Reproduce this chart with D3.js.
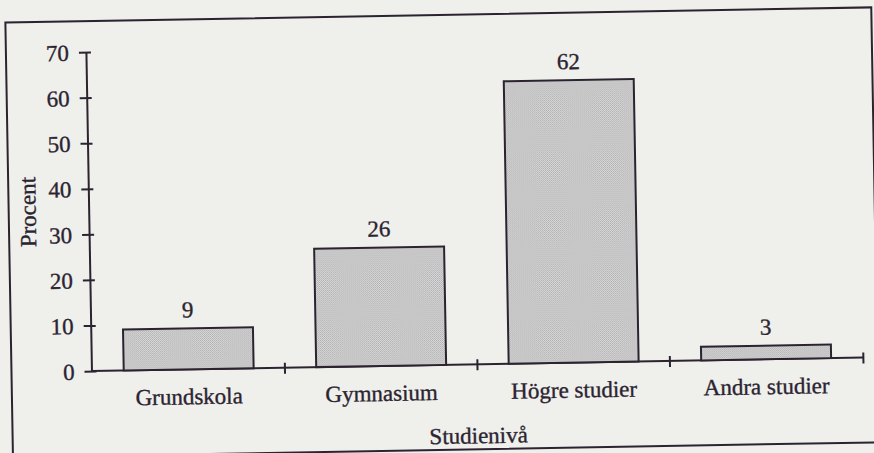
<!DOCTYPE html>
<html>
<head>
<meta charset="utf-8">
<script src="https://cdn.jsdelivr.net/npm/d3@7"></script>
<style>
  body { margin: 0; background: #efefec; }
  svg { display: block; }
  text { font-family: "Liberation Serif", "Times New Roman", serif; fill: #2b2430; stroke: #2b2430; stroke-width: 0.35px; }
</style>
</head>
<body>
<svg width="874" height="453"></svg>
<script>
var categories = ['Grundskola', 'Gymnasium', 'Högre studier', 'Andra studier'];
var values = [9, 26, 62, 3];
var yTicks = [0, 10, 20, 30, 40, 50, 60, 70];

var ink = '#2b2430';
var fontSize = 23;

var svg = d3.select('svg');

// dotted raster like the printed bars
var pat = svg.append('defs').append('pattern')
  .attr('id', 'dots')
  .attr('width', 2).attr('height', 2)
  .attr('patternUnits', 'userSpaceOnUse');
pat.append('rect').attr('width', 2).attr('height', 2).attr('fill', '#dcdcdc');
pat.append('rect').attr('width', 1).attr('height', 1).attr('fill', '#acacac');
pat.append('rect').attr('x', 1).attr('y', 1).attr('width', 1).attr('height', 1).attr('fill', '#b6b6b6');

// the scan is slightly tilted
var g = svg.append('g').attr('transform', 'rotate(-1, 437, 226)');

g.append('rect')
  .attr('x', 9).attr('y', 15)
  .attr('width', 866).attr('height', 435)
  .attr('fill', 'none')
  .attr('stroke', ink)
  .attr('stroke-width', 2);

var xScale = d3.scaleBand()
  .domain(categories)
  .range([89, 861])
  .paddingInner(0.325)
  .paddingOuter(0.1675);

var yScale = d3.scaleLinear()
  .domain([0, 70])
  .range([365, 46]);

// y axis
var yAxis = g.append('g')
  .attr('transform', 'translate(89,0)')
  .call(d3.axisLeft(yScale).tickValues(yTicks).tickSizeOuter(0).tickSizeInner(6).tickPadding(11));
yAxis.select('.domain').attr('stroke', ink).attr('stroke-width', 2);
yAxis.selectAll('.tick line').attr('x1', -7).attr('x2', 5).attr('stroke', ink).attr('stroke-width', 2);
yAxis.selectAll('.tick text')
  .attr('font-size', fontSize)
  .attr('dy', '0.34em')
  .attr('fill', ink);

// x axis line with ticks at band boundaries
var step = xScale.step();
var boundaries = categories.map(function(d) {
  return xScale(d) + xScale.bandwidth() + step * xScale.paddingInner() / 2;
});
boundaries[boundaries.length - 1] = xScale.range()[1];

g.append('line')
  .attr('x1', 89).attr('x2', xScale.range()[1])
  .attr('y1', yScale(0)).attr('y2', yScale(0))
  .attr('stroke', ink).attr('stroke-width', 2);

g.selectAll('line.xtick')
  .data(boundaries)
  .enter()
  .append('line')
    .attr('class', 'xtick')
    .attr('x1', function(d) { return d; })
    .attr('x2', function(d) { return d; })
    .attr('y1', yScale(0) - 5)
    .attr('y2', yScale(0) + 6)
    .attr('stroke', ink)
    .attr('stroke-width', 2);

// bars
g.selectAll('rect.bar')
  .data(values)
  .enter()
  .append('rect')
    .attr('class', 'bar')
    .attr('x', function(d, i) { return xScale(categories[i]); })
    .attr('y', function(d) { return yScale(d); })
    .attr('width', xScale.bandwidth())
    .attr('height', function(d) { return yScale(0) - yScale(d); })
    .attr('fill', 'url(#dots)')
    .attr('stroke', ink)
    .attr('stroke-width', 2);

// value labels
g.selectAll('text.val')
  .data(values)
  .enter()
  .append('text')
    .attr('class', 'val')
    .attr('x', function(d, i) { return xScale(categories[i]) + xScale.bandwidth() / 2; })
    .attr('y', function(d) { return yScale(d) - 11; })
    .attr('text-anchor', 'middle')
    .attr('font-size', fontSize)
    .text(function(d) { return d; });

// category labels
g.selectAll('text.cat')
  .data(categories)
  .enter()
  .append('text')
    .attr('class', 'cat')
    .attr('x', function(d) { return xScale(d) + xScale.bandwidth() / 2; })
    .attr('y', 400)
    .attr('text-anchor', 'middle')
    .attr('font-size', fontSize)
    .text(function(d) { return d; });

// axis titles
g.append('text')
  .attr('x', (89 + xScale.range()[1]) / 2)
  .attr('y', 444)
  .attr('text-anchor', 'middle')
  .attr('font-size', fontSize)
  .text('Studienivå');

g.append('text')
  .attr('transform', 'translate(36,205) rotate(-90)')
  .attr('text-anchor', 'middle')
  .attr('font-size', fontSize)
  .text('Procent');
</script>
</body>
</html>
